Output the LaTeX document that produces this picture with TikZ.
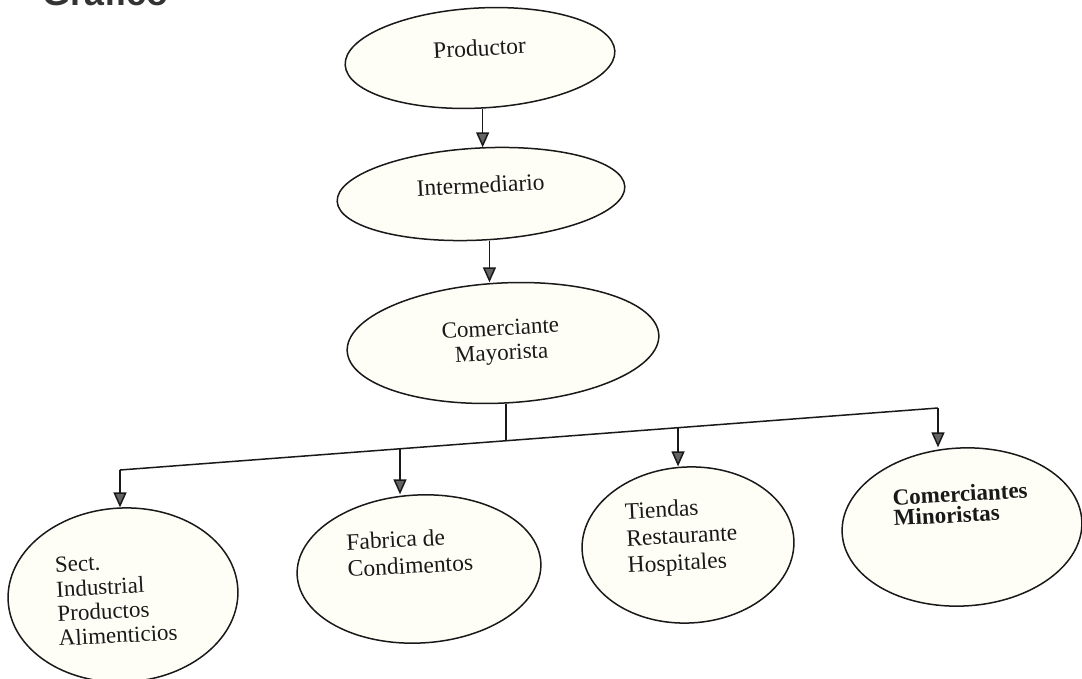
\documentclass[tikz,border=0pt]{standalone}
\usepackage{fontspec}
\setmainfont{Liberation Serif}
\newfontfamily\headfont{Liberation Sans}
\usetikzlibrary{shapes.geometric,arrows.meta,calc}
\definecolor{cream}{RGB}{254,254,246}
\definecolor{ink}{RGB}{25,25,25}
\definecolor{tipgray}{RGB}{100,100,100}
\begin{document}
\begin{tikzpicture}[x=1pt,y=-1pt,
  bubble/.style={ellipse, draw=ink, line width=1.5pt, fill=cream, inner sep=0pt, rotate=3},
  lbl/.style={font=\fontsize{23.5}{27}\selectfont, text=ink, inner sep=0pt, rotate=3},
  link/.style={draw=ink, line width=1.5pt},
  arr/.style={link, -{Triangle[length=15pt,width=13pt,fill=tipgray]}}]
\fill[white] (0,0) rectangle (1082,679);
\useasboundingbox (0,0) rectangle (1082,679);

% partially visible heading (cut by the top edge, as in the scan)
\begin{scope}[overlay]
\clip (0,0) rectangle (300,8);
\node[font=\headfont\bfseries\fontsize{36}{36}\selectfont, anchor=base west, text=black!80, inner sep=0pt] (title) at (42,6) {Gráfico};
\end{scope}

% ellipses
\node[bubble, minimum width=270pt, minimum height=100pt] (prod) at (480,58) {};
\node[bubble, minimum width=288pt, minimum height=92pt] (inter) at (481,194) {};
\node[bubble, minimum width=312pt, minimum height=120pt] (comer) at (503,343) {};
\node[bubble, minimum width=230pt, minimum height=174pt] (sect) at (123,595) {};
\node[bubble, minimum width=244pt, minimum height=148pt] (fab) at (419,569) {};
\node[bubble, minimum width=212pt, minimum height=156pt] (tie) at (688,545) {};
\node[bubble, minimum width=240pt, minimum height=158pt] (mino) at (962,527) {};

% labels (multi-line nodes: base anchor = baseline of last line)
\node[lbl, anchor=base] (prodT) at (480,56) {Productor};
\node[lbl, anchor=base] (interT) at (481,193) {Intermediario};
\node[lbl, anchor=base, align=center, font=\fontsize{23}{24.5}\selectfont] (comerT) at (502,360) {Comerciante\\Mayorista};
\node[lbl, anchor=base west, align=left, font=\fontsize{23}{24.5}\selectfont] (sectT) at (59,646) {Sect.\\Industrial\\Productos\\Alimenticios};
\node[lbl, anchor=base west, align=left] (fabT) at (348,577) {Fabrica de\\Condimentos};
\node[lbl, anchor=base west, align=left] (tieT) at (628,573) {Tiendas\\Restaurante\\Hospitales};
\node[lbl, anchor=base west, align=left, font=\bfseries\fontsize{23}{21}\selectfont] (minoT) at (894,526) {Comerciantes\\Minoristas};

% connectors
\draw[arr] (prod.south) -- (prod.south |- inter.north);
\draw[arr] ([xshift=6pt]inter.south) -- ([xshift=6pt]inter.south |- comer.north);

\coordinate (busL) at (120,470);
\coordinate (busR) at (938,408);
\coordinate (busM) at ($(busL)!0.4682!(busR)$);
\coordinate (busF) at ($(busL)!0.3423!(busR)$);
\coordinate (busT) at ($(busL)!0.6822!(busR)$);

\draw[link] (comer.south) -- (comer.south |- busM);
\draw[link] (busL) -- (busR);
\draw[arr] (busL) -- (busL |- sect.north);
\draw[arr] (busF) -- (busF |- fab.north);
\draw[arr] (busT) -- (busT |- tie.north);
\draw[arr] (busR) -- (busR |- mino.north);
\end{tikzpicture}
\end{document}
